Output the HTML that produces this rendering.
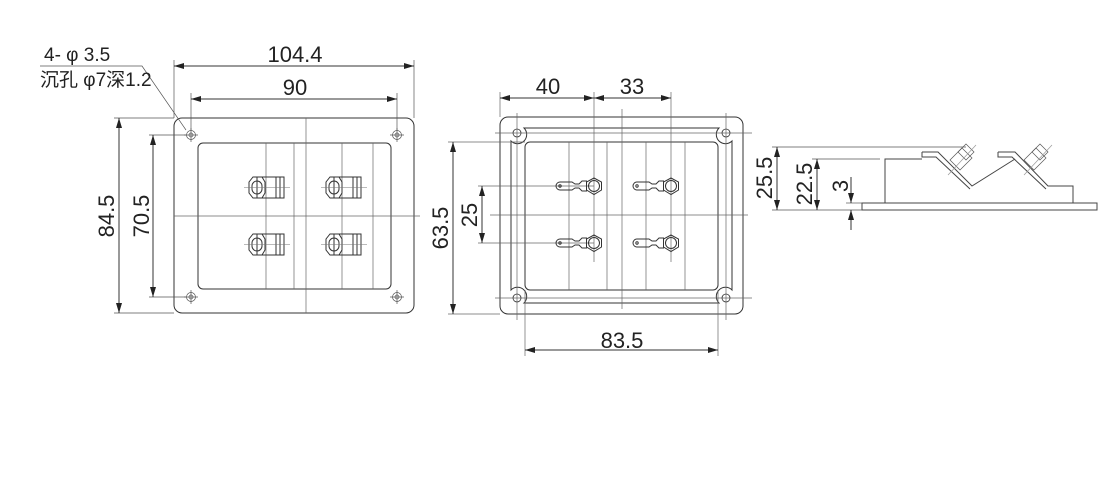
<!DOCTYPE html>
<html><head><meta charset="utf-8"><style>
html,body{margin:0;padding:0;background:#fff;}
svg{display:block;}
text{font-family:"Liberation Sans","Noto Sans CJK SC",sans-serif;fill:#222;}
</style></head><body>
<svg width="1120" height="502" viewBox="0 0 1120 502" xmlns="http://www.w3.org/2000/svg">
<defs>
<marker id="a" viewBox="0 0 10 6" refX="10" refY="3" markerWidth="10" markerHeight="6" orient="auto-start-reverse" markerUnits="userSpaceOnUse"><path d="M0,0 L10,3 L0,6 Z" fill="#222"/></marker>
</defs>
<g fill="none" stroke="#333" stroke-width="1">
<!-- View 1 -->
<rect x="174" y="118" width="240" height="195" rx="8"/>
<rect x="198" y="143" width="193" height="146" rx="5"/>
<g stroke="#666" stroke-width="0.7">
<line x1="266" y1="143" x2="266" y2="289"/><line x1="294" y1="143" x2="294" y2="289"/>
<line x1="342" y1="143" x2="342" y2="289"/><line x1="373" y1="143" x2="373" y2="289"/>
<line x1="306" y1="118" x2="306" y2="313"/>
<line x1="174" y1="216" x2="420" y2="216"/>
</g>
<g stroke="#555" stroke-width="0.7">
<circle cx="191" cy="135" r="4.5"/><circle cx="191" cy="135" r="2"/>
<circle cx="397" cy="135" r="4.5"/><circle cx="397" cy="135" r="2"/>
<circle cx="191" cy="297" r="4.5"/><circle cx="191" cy="297" r="2"/>
<circle cx="397" cy="297" r="4.5"/><circle cx="397" cy="297" r="2"/>
<path d="M184,135h14M191,128v14M390,135h14M397,128v14M184,297h14M191,290v14M390,297h14M397,290v14"/>
</g>
<g id="t1">
<rect x="257" y="177" width="27" height="21"/>
<path d="M249,182 L253,177 L262,177 L265,182 L265,193 L262,198 L253,198 L249,193 Z"/>
<rect x="252" y="181" width="10" height="13" rx="5"/>
<line x1="276" y1="177" x2="276" y2="198"/><line x1="280" y1="177" x2="280" y2="198"/>
<line x1="244" y1="187.5" x2="290" y2="187.5" stroke="#777" stroke-width="0.6"/>
</g>
<use href="#t1" x="77" y="0"/>
<use href="#t1" x="0" y="57"/>
<use href="#t1" x="77" y="57"/>
<!-- dims view1 -->
<g stroke="#555" stroke-width="0.7">
<line x1="174" y1="60" x2="174" y2="118"/><line x1="414" y1="60" x2="414" y2="118"/>
<line x1="191" y1="93" x2="191" y2="130"/><line x1="397" y1="93" x2="397" y2="130"/>
<line x1="114" y1="118" x2="174" y2="118"/><line x1="114" y1="313" x2="174" y2="313"/>
<line x1="149" y1="135" x2="186" y2="135"/><line x1="149" y1="297" x2="186" y2="297"/>
<polyline points="40,66 142,66 186,130"/>
</g>
<line x1="174" y1="66" x2="414" y2="66" marker-start="url(#a)" marker-end="url(#a)"/>
<line x1="191" y1="99" x2="397" y2="99" marker-start="url(#a)" marker-end="url(#a)"/>
<line x1="119" y1="118" x2="119" y2="313" marker-start="url(#a)" marker-end="url(#a)"/>
<line x1="153" y1="135" x2="153" y2="297" marker-start="url(#a)" marker-end="url(#a)"/>

<!-- View 2 -->
<rect x="500" y="117" width="243" height="197" rx="8"/>
<path d="M524,128 H719 A7,7 0 0 0 732,141 V290 A7,7 0 0 0 719,303 H524 A7,7 0 0 0 511,290 V141 A7,7 0 0 0 524,128 Z"/>
<rect x="525" y="142" width="193" height="148" rx="5"/>
<g stroke="#666" stroke-width="0.7">
<line x1="569" y1="142" x2="569" y2="290"/><line x1="607" y1="142" x2="607" y2="290"/>
<line x1="646" y1="142" x2="646" y2="290"/><line x1="685" y1="142" x2="685" y2="290"/>
<line x1="622" y1="109" x2="622" y2="309"/>
<line x1="490" y1="215" x2="748" y2="215"/>
<line x1="594" y1="92" x2="594" y2="262"/><line x1="671" y1="92" x2="671" y2="262"/>
<line x1="500" y1="92" x2="500" y2="117"/>
<line x1="495" y1="133" x2="752" y2="133"/><line x1="495" y1="298" x2="752" y2="298"/>
<line x1="517" y1="113" x2="517" y2="320"/><line x1="726" y1="113" x2="726" y2="320"/>
<line x1="448" y1="142" x2="525" y2="142"/><line x1="448" y1="314" x2="500" y2="314"/>
<line x1="478" y1="186" x2="594" y2="186"/><line x1="478" y1="243" x2="594" y2="243"/>
<line x1="525" y1="290" x2="525" y2="356"/><line x1="718" y1="290" x2="718" y2="356"/>
</g>
<g stroke-width="0.8">
<circle cx="517" cy="133" r="4"/><circle cx="726" cy="133" r="4"/>
<circle cx="517" cy="298" r="4"/><circle cx="726" cy="298" r="4"/>
</g>
<g id="t2">
<path d="M560,182 H572 L575,184 L579,184 L582,181 H587 M560,190 H572 L575,188 L579,188 L582,191 H587 M560,182 A4,4 0 0 0 560,190" />
<circle cx="560" cy="186" r="1.2"/>
<path d="M594,178 L601.5,182 L601.5,190 L594,194.5 L586.5,190 L586.5,182 Z"/>
<circle cx="594" cy="186" r="5.5"/>
</g>
<use href="#t2" x="77" y="0"/>
<use href="#t2" x="0" y="57"/>
<use href="#t2" x="77" y="57"/>
<line x1="500" y1="98" x2="594" y2="98" marker-start="url(#a)" marker-end="url(#a)"/>
<line x1="594" y1="98" x2="671" y2="98" marker-start="url(#a)" marker-end="url(#a)"/>
<line x1="453" y1="142" x2="453" y2="314" marker-start="url(#a)" marker-end="url(#a)"/>
<line x1="482" y1="186" x2="482" y2="243" marker-start="url(#a)" marker-end="url(#a)"/>
<line x1="525" y1="350" x2="718" y2="350" marker-start="url(#a)" marker-end="url(#a)"/>

<!-- View 3 -->
<rect x="862" y="203" width="235" height="7" stroke="#444"/>
<path d="M885,203 V159 H922 M922,152 H938 L972,186 L1015,159 M998,152 H1015 L1048,186 H1073 V203" stroke="#444"/>
<path d="M922,152 V157 H936 L970,189 M998,152 V157 H1012 L1046,189" stroke="#444"/>
<g stroke="#555" stroke-width="0.7">
<path d="M950,160 L962,148 L972,158 L960,170 Z"/>
<path d="M958,152 L966,144 L974,152 L966,160 Z"/>
<path d="M1024,160 L1036,148 L1046,158 L1034,170 Z"/>
<path d="M1032,152 L1040,144 L1048,152 L1040,160 Z"/>
<line x1="948" y1="175" x2="976" y2="145" stroke="#999"/>
<line x1="1024" y1="175" x2="1052" y2="145" stroke="#999"/>
<line x1="772" y1="147" x2="966" y2="147"/>
<line x1="812" y1="159" x2="880" y2="159"/>
<line x1="772" y1="210" x2="862" y2="210"/>
<line x1="846" y1="203" x2="862" y2="203"/>
</g>
<line x1="777" y1="147" x2="777" y2="210" marker-start="url(#a)" marker-end="url(#a)"/>
<line x1="817" y1="159" x2="817" y2="210" marker-start="url(#a)" marker-end="url(#a)"/>
<line x1="851" y1="177" x2="851" y2="203" marker-end="url(#a)"/>
<line x1="851" y1="230" x2="851" y2="210" marker-end="url(#a)"/>
</g>
<g font-size="22">
<text x="295" y="62" text-anchor="middle">104.4</text>
<text x="295" y="95" text-anchor="middle">90</text>
<text x="548" y="94" text-anchor="middle">40</text>
<text x="632" y="94" text-anchor="middle">33</text>
<text x="622" y="348" text-anchor="middle">83.5</text>
<text transform="translate(114,216) rotate(-90)" text-anchor="middle">84.5</text>
<text transform="translate(149,216) rotate(-90)" text-anchor="middle">70.5</text>
<text transform="translate(448,228) rotate(-90)" text-anchor="middle">63.5</text>
<text transform="translate(477,215) rotate(-90)" text-anchor="middle">25</text>
<text transform="translate(772,178) rotate(-90)" text-anchor="middle">25.5</text>
<text transform="translate(812,184) rotate(-90)" text-anchor="middle">22.5</text>
<text transform="translate(848,186) rotate(-90)" text-anchor="middle">3</text>
</g>
<text x="44" y="61" font-size="19">4- φ 3.5</text>
<text x="40" y="86" font-size="19">沉孔 φ7深1.2</text>
</svg>
</body></html>
